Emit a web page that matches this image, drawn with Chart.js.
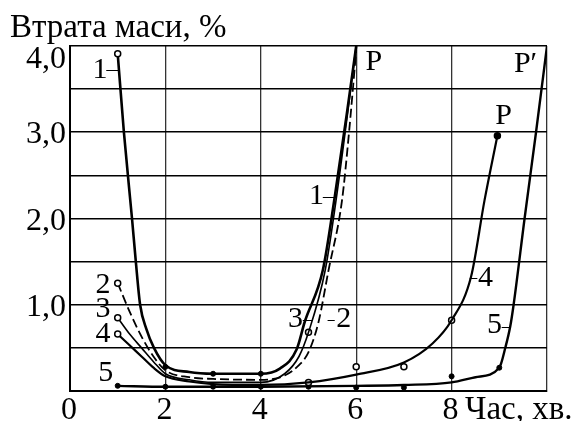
<!DOCTYPE html>
<html>
<head>
<meta charset="utf-8">
<script src="https://cdn.jsdelivr.net/npm/chart.js@4/dist/chart.umd.min.js"></script>
<style>
html,body{margin:0;padding:0;background:#fff;}
#wrap{width:574px;height:421px;position:relative;}
</style>
</head>
<body>
<div id="wrap"><canvas id="c" width="574" height="421"></canvas></div>
<script>
// ---- data ----
const titleText = "Втрата маси, %";
const xAxisText = "Час, хв.";
const xTickValues = [0, 2, 4, 6, 8];
const xTickLabels = ["0", "2", "4", "6", "8"];
const yTickValues = [1, 2, 3, 4];
const yTickLabels = ["1,0", "2,0", "3,0", "4,0"];

const c1x = [1, 1.13, 1.3, 1.38, 1.47, 1.6, 1.76, 2, 2.5, 3, 4, 4.4, 4.75, 4.92, 5.3, 5.55, 5.8, 6];
const c1y = [3.91, 3.0, 2.0, 1.5, 1.0, 0.72, 0.5, 0.3, 0.22, 0.2, 0.2, 0.26, 0.48, 0.8, 1.4, 2.25, 3.2, 4.0];

const c2x = [1, 1.25, 1.5, 1.75, 2, 2.5, 3, 4, 4.5, 4.8, 5, 5.21, 5.42, 5.7, 5.85, 6];
const c2y = [1.25, 0.92, 0.63, 0.4, 0.24, 0.16, 0.14, 0.13, 0.18, 0.3, 0.45, 0.8, 1.4, 2.2, 3.0, 3.95];

const c3x = [1, 1.25, 1.5, 1.75, 2, 2.5, 3, 4, 4.5, 4.8, 5, 5.35, 5.6, 6];
const c3y = [0.85, 0.66, 0.5, 0.34, 0.2, 0.13, 0.1, 0.1, 0.2, 0.4, 0.68, 1.4, 2.3, 4.0];

const c4x = [1, 1.25, 1.5, 1.75, 2, 2.5, 3, 4, 5, 6, 7, 7.6, 8, 8.41, 8.69, 8.96];
const c4y = [0.66, 0.53, 0.4, 0.27, 0.17, 0.11, 0.08, 0.07, 0.1, 0.19, 0.33, 0.55, 0.82, 1.33, 2.21, 2.96];

const c5x = [1, 2, 4, 6, 7, 8, 8.5, 9, 9.13, 9.23, 9.3, 9.53, 9.77, 10];
const c5y = [0.06, 0.05, 0.05, 0.06, 0.07, 0.1, 0.16, 0.27, 0.51, 0.75, 1.0, 2.0, 3.0, 4.0];

const openPtsX = [5, 6, 7, 8, 5];
const openPtsY = [0.68, 0.28, 0.28, 0.82, 0.1];
const dotPtsX = [2, 3, 4, 5, 6, 7, 8, 9, 3, 4, 2];
const dotPtsY = [0.05, 0.05, 0.05, 0.05, 0.04, 0.04, 0.17, 0.27, 0.2, 0.2, 0.28];

// curve annotations
const noteTexts = ["1", "1", "2", "3", "4", "5", "3", "2", "4", "5", "P", "P", "P′"];
const noteX = [0.63, 5.17, 0.69, 0.69, 0.69, 0.75, 4.73, 5.74, 8.71, 8.9, 6.37, 9.09, 9.55];
const noteY = [3.73, 2.27, 1.24, 0.96, 0.67, 0.22, 0.85, 0.85, 1.32, 0.77, 3.83, 3.2, 3.8];
// short leader strokes [x1, x2, y]
const leadX1 = [0.76, 5.3, 4.88, 5.40, 8.38, 9.05];
const leadX2 = [1.02, 5.55, 5.09, 5.55, 8.54, 9.21];
const leadY = [3.72, 2.25, 0.82, 0.82, 1.31, 0.74];

const FONT = '"Liberation Serif", "Times New Roman", serif';

function pts(xs, ys) { return xs.map((x, i) => ({x: x, y: ys[i]})); }

const textPlugin = {
  id: 'texts',
  afterDraw(chart) {
    const ctx = chart.ctx, sx = chart.scales.x, sy = chart.scales.y;
    ctx.save();
    ctx.fillStyle = '#000';
    // title
    ctx.font = '33px ' + FONT;
    ctx.textAlign = 'left'; ctx.textBaseline = 'alphabetic';
    ctx.fillText(titleText, 10, 37);
    // y tick labels
    ctx.font = '32px ' + FONT;
    ctx.textAlign = 'right';
    yTickValues.forEach((v, i) => {
      let py = sy.getPixelForValue(v) + 11;
      if (i === yTickValues.length - 1) py += 11;
      ctx.fillText(yTickLabels[i], 66, py);
    });
    // x tick labels
    ctx.textAlign = 'center';
    xTickValues.forEach((v, i) => {
      ctx.fillText(xTickLabels[i], sx.getPixelForValue(v) - 1, 419);
    });
    ctx.textAlign = 'left';
    ctx.font = '33px ' + FONT;
    ctx.fillText(xAxisText, 465, 419);
    // notes
    ctx.font = '30px ' + FONT;
    ctx.textAlign = 'center'; ctx.textBaseline = 'middle';
    noteTexts.forEach((t, i) => {
      ctx.fillText(t, sx.getPixelForValue(noteX[i]), sy.getPixelForValue(noteY[i]) + 1);
    });
    ctx.strokeStyle = '#000'; ctx.lineWidth = 1;
    leadX1.forEach((x1, i) => {
      const y = Math.round(sy.getPixelForValue(leadY[i])) + 0.5;
      ctx.beginPath();
      ctx.moveTo(sx.getPixelForValue(x1), y);
      ctx.lineTo(sx.getPixelForValue(leadX2[i]), y);
      ctx.stroke();
    });
    ctx.restore();
  }
};

const firstOnly = (r) => (c) => c.dataIndex === 0 ? r : 0;

new Chart(document.getElementById('c'), {
  type: 'line',
  data: {
    datasets: [
      {data: pts(c1x, c1y), borderColor: '#000', borderWidth: 2.6, cubicInterpolationMode: 'monotone',
       pointRadius: firstOnly(3), pointBackgroundColor: '#fff', pointBorderColor: '#000', pointBorderWidth: 1.5},
      {data: pts(c2x, c2y), borderColor: '#000', borderWidth: 1.8, borderDash: [9, 4], cubicInterpolationMode: 'monotone',
       pointRadius: firstOnly(3), pointBackgroundColor: '#fff', pointBorderColor: '#000', pointBorderWidth: 1.5},
      {data: pts(c3x, c3y), borderColor: '#000', borderWidth: 1.6, cubicInterpolationMode: 'monotone',
       pointRadius: firstOnly(3), pointBackgroundColor: '#fff', pointBorderColor: '#000', pointBorderWidth: 1.5},
      {data: pts(c4x, c4y), borderColor: '#000', borderWidth: 2.2, cubicInterpolationMode: 'monotone',
       pointRadius: (c) => (c.dataIndex === 0 || c.dataIndex === c4x.length - 1) ? 3 : 0,
       pointBackgroundColor: (c) => c.dataIndex === 0 ? '#fff' : '#000', pointBorderColor: '#000', pointBorderWidth: 1.5},
      {data: pts(c5x, c5y), borderColor: '#000', borderWidth: 2.4, cubicInterpolationMode: 'monotone',
       pointRadius: firstOnly(2.5), pointBackgroundColor: '#000', pointBorderColor: '#000', pointBorderWidth: 1},
      {data: pts(openPtsX, openPtsY), showLine: false, pointRadius: 3, pointBackgroundColor: '#fff',
       pointBorderColor: '#000', pointBorderWidth: 1.5},
      {data: pts(dotPtsX, dotPtsY), showLine: false, pointRadius: 2.5, pointBackgroundColor: '#000',
       pointBorderColor: '#000', pointBorderWidth: 1}
    ]
  },
  options: {
    responsive: false,
    animation: false,
    events: [],
    layout: {padding: {left: 70, right: 27, top: 46, bottom: 30}},
    plugins: {legend: {display: false}, tooltip: {enabled: false}},
    scales: {
      x: {type: 'linear', min: 0, max: 10,
          ticks: {display: false, stepSize: 2},
          grid: {color: '#333', lineWidth: 1.3, drawTicks: false},
          border: {color: '#000', width: 2}},
      y: {type: 'linear', min: 0, max: 4,
          ticks: {display: false, stepSize: 0.5},
          grid: {color: '#000', lineWidth: 1.6, drawTicks: false},
          border: {color: '#000', width: 2}}
    }
  },
  plugins: [textPlugin]
});
</script>
</body>
</html>
